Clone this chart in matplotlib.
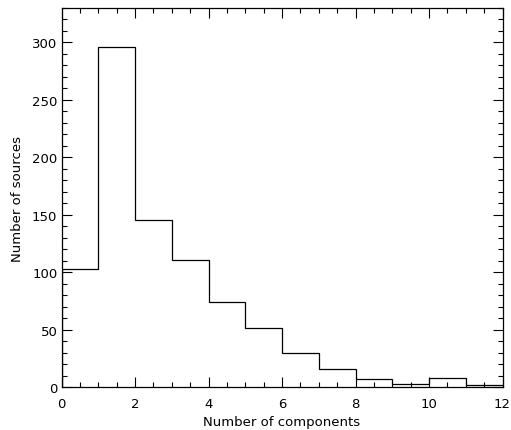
import matplotlib
matplotlib.use("Agg")
import matplotlib.pyplot as plt
import numpy as np
from matplotlib.ticker import MultipleLocator

bin_edges = [0, 1, 2, 3, 4, 5, 6, 7, 8, 9, 10, 11, 12]
counts = [103, 296, 145, 111, 74, 51, 30, 16, 7, 3, 8, 2]

plt.rcParams['font.family'] = ['DejaVu Sans']
fig = plt.figure(figsize=(5.11, 4.31), dpi=100)
ax = fig.add_axes([61.5/511, 1 - 388/431, (502.5-61.5)/511, (388-9)/431])

ax.stairs(counts, bin_edges, color='black', linewidth=0.9)

ax.set_xlim(0, 12)
ax.set_ylim(0, 330)
ax.xaxis.set_major_locator(MultipleLocator(2))
ax.xaxis.set_minor_locator(MultipleLocator(0.5))
ax.yaxis.set_major_locator(MultipleLocator(50))
ax.yaxis.set_minor_locator(MultipleLocator(10))
ax.tick_params(which='both', direction='in', top=True, right=True, width=0.8, labelsize=9.5)
ax.tick_params(which='major', length=7)
ax.tick_params(which='minor', length=3.5)
ax.tick_params(axis='x', which='major', pad=7)
ax.tick_params(axis='y', which='major', pad=3)
for s in ax.spines.values():
    s.set_linewidth(0.9)

ax.set_xlabel('Number of components', fontsize=9.5, labelpad=3.5)
ax.set_ylabel('Number of sources', fontsize=9.5, labelpad=6)

fig.savefig('out.png', dpi=100)
